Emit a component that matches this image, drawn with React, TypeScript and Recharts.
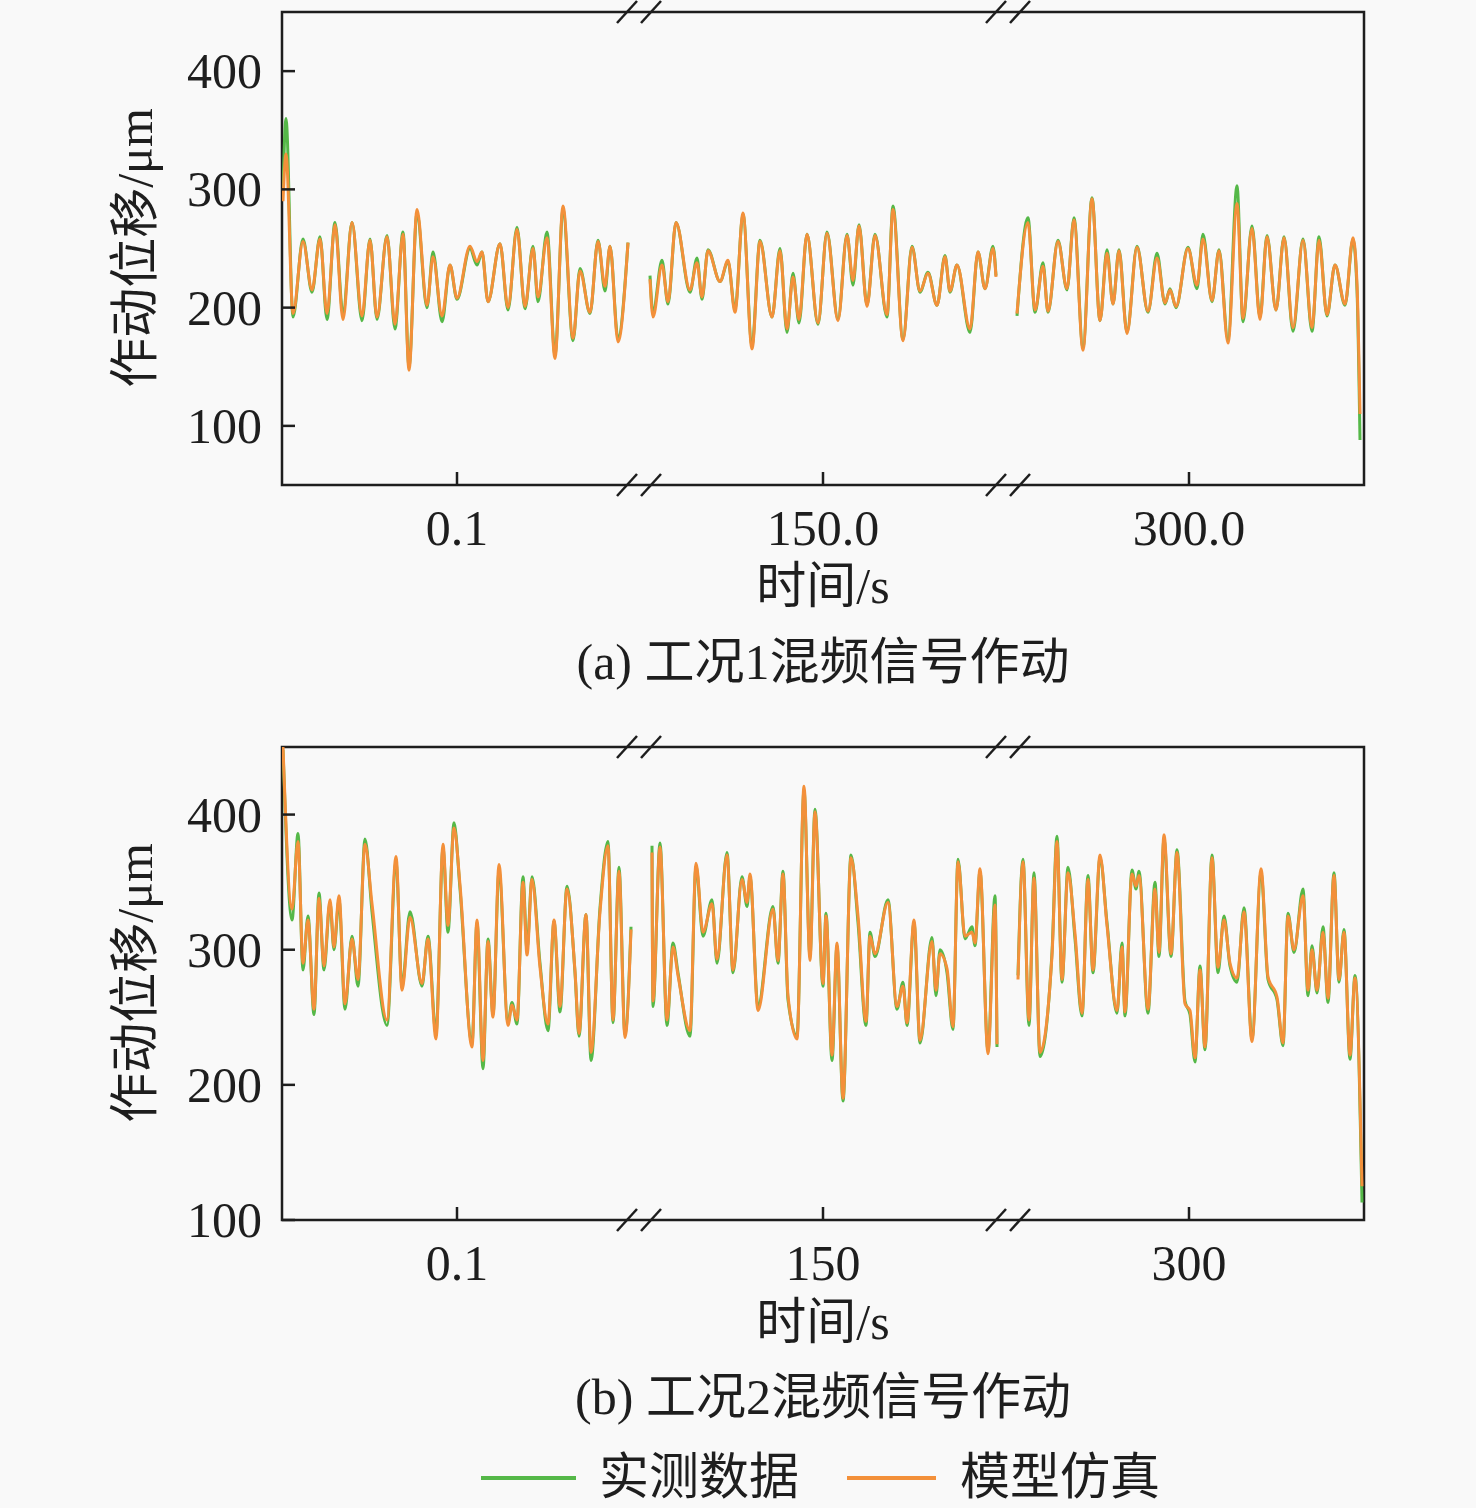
import React from 'react';
import { LineChart, Line, XAxis, YAxis, ReferenceArea, ReferenceDot } from 'recharts';

type Pt = [number, number, number]; // [position, 实测数据, 模型仿真]

// ---- (a) 工况1 ----
const A_SEG1: Pt[] = [[1,300,290],[4,360,330],[11,192,195],[21,258,256],[30,213,215],[38,260,258],[45,190,195],[53,272,270],[61,195,190],[70,272,272],[80,189,193],[88,258,257],[95,190,192],[105,261,260],[113,182,186],[121,264,262],[127,150,147],[135,280,283],[145,200,202],[151,247,243],[160,188,193],[168,236,236],[175,207,208],[188,250,252],[195,236,239],[200,247,247],[206,205,205],[218,254,254],[226,198,200],[235,268,266],[243,199,201],[251,252,250],[256,205,209],[265,264,259],[273,160,157],[281,283,286],[291,172,174],[298,233,231],[308,195,196],[316,257,256],[323,214,218],[328,252,252],[336,174,171],[346,255,255]];
const A_SEG2: Pt[] = [[368,227,224],[371,196,192],[380,240,236],[386,203,205],[394,272,272],[408,213,215],[415,242,238],[420,207,209],[426,249,248],[438,222,222],[446,239,240],[453,198,196],[461,279,280],[470,168,165],[478,257,256],[490,192,192],[498,250,248],[505,179,182],[511,229,226],[517,187,190],[525,262,262],[536,186,187],[545,264,263],[556,190,189],[565,262,261],[571,219,223],[577,270,269],[585,202,201],[593,262,261],[605,192,194],[611,286,283],[621,173,172],[630,252,251],[638,213,214],[646,230,229],[655,202,202],[663,244,243],[668,213,214],[675,236,236],[688,179,182],[696,247,247],[703,216,216],[711,252,250],[714,227,226]];
const A_SEG3: Pt[] = [[735,193,195],[746,276,272],[753,196,198],[761,238,235],[766,196,197],[776,257,256],[785,215,216],[792,276,274],[801,166,164],[810,293,292],[818,189,189],[825,249,246],[831,203,203],[837,249,248],[845,179,178],[855,252,251],[866,196,197],[875,246,242],[883,203,204],[888,216,215],[894,200,201],[906,251,250],[915,216,219],[921,262,258],[930,205,206],[937,249,248],[946,173,170],[955,303,288],[961,188,191],[970,269,267],[978,192,190],[985,261,260],[994,198,198],[1002,260,259],[1011,180,183],[1021,258,257],[1030,180,183],[1037,260,257],[1045,193,194],[1053,236,236],[1063,202,203],[1071,258,259],[1075,215,220],[1078,88,110]];

// ---- (b) 工况2 ----
const B_SEG1: Pt[] = [[1,448,450],[10,322,330],[16,386,380],[21,285,290],[26,325,322],[32,252,256],[37,342,338],[42,285,288],[48,335,337],[52,300,302],[57,337,340],[63,256,260],[70,310,308],[76,273,278],[83,382,378],[90,328,334],[105,244,248],[114,365,369],[120,273,270],[128,328,324],[140,273,275],[146,310,308],[154,238,234],[161,375,378],[166,313,318],[172,394,390],[178,345,348],[190,231,228],[195,320,322],[201,212,218],[206,308,306],[211,252,250],[217,358,363],[226,246,244],[230,261,259],[235,245,248],[241,354,350],[245,300,296],[250,354,352],[258,290,287],[266,240,245],[272,321,322],[278,254,258],[285,347,345],[293,283,284],[297,236,238],[304,326,326],[309,218,224],[318,331,328],[326,380,377],[331,246,248],[337,361,358],[343,237,235],[349,317,315]];
const B_SEG2: Pt[] = [[370,377,372],[371,258,262],[378,379,376],[385,244,248],[391,305,302],[396,283,281],[408,236,240],[414,362,364],[421,310,313],[430,337,334],[435,290,293],[445,372,370],[451,283,285],[460,354,352],[465,332,335],[468,354,356],[476,258,255],[491,332,330],[496,290,292],[501,358,356],[506,263,266],[515,236,234],[522,418,421],[528,295,292],[533,404,402],[541,273,275],[544,327,325],[550,218,222],[555,303,305],[561,188,190],[569,370,368],[576,320,325],[584,244,247],[588,313,310],[593,295,297],[606,337,335],[615,256,258],[621,276,273],[625,244,246],[632,320,322],[638,231,233],[650,309,306],[654,266,270],[658,300,297],[665,283,286],[671,241,243],[676,367,365],[683,308,310],[690,317,313],[693,303,305],[698,358,360],[706,225,223],[713,340,333],[715,228,230]];
const B_SEG3: Pt[] = [[736,281,278],[741,367,365],[747,244,248],[752,357,353],[758,221,224],[770,298,296],[775,384,380],[780,276,278],[786,361,357],[793,308,312],[800,251,253],[806,355,352],[811,283,285],[818,368,370],[825,320,318],[835,253,255],[840,305,302],[843,251,254],[850,359,356],[854,345,347],[857,358,355],[866,253,256],[873,350,345],[877,295,298],[882,382,385],[889,295,297],[895,374,372],[903,262,260],[908,252,255],[913,217,220],[918,288,285],[923,226,228],[930,370,368],[936,283,287],[942,325,322],[948,288,290],[955,276,279],[962,331,328],[970,234,232],[979,357,360],[986,278,280],[995,263,265],[1001,229,231],[1006,327,325],[1012,298,300],[1021,345,340],[1026,266,270],[1030,303,300],[1035,268,270],[1041,317,313],[1046,261,264],[1052,357,355],[1057,276,278],[1062,315,313],[1068,219,222],[1073,281,279],[1080,113,125]];

const X_DOMAIN: [number, number] = [0, 1082];
const X_TICKS = [175, 541, 907];
const X_LABELS_A = ['0.1', '150.0', '300.0'];
const X_LABELS_B = ['0.1', '150', '300'];
const Y_TICKS = [100, 200, 300, 400];
const Y_DOMAIN_A: [number, number] = [50, 450];
const Y_DOMAIN_B: [number, number] = [100, 450];
const BREAKS = [357, 726];
const SERIES_NAMES = ['实测数据', '模型仿真'];

const GREEN = '#55b848';
const ORANGE = '#f3903a';
const INK = '#1e1e1e';
const FONT = "'Times New Roman', 'Liberation Serif', 'Noto Sans CJK SC', serif";
const TS = 6;
const TM = 2;

function build(segs: Pt[][]) {
  const rows: { x: number; m: number | null; s: number | null }[] = [];
  segs.forEach((seg, i) => {
    if (i > 0) {
      const prev = segs[i - 1];
      rows.push({ x: (prev[prev.length - 1][0] + seg[0][0]) / 2, m: null, s: null });
    }
    seg.forEach(([x, m, s]) => rows.push({ x, m, s }));
  });
  return rows;
}

const DATA_A = build([A_SEG1, A_SEG2, A_SEG3]);
const DATA_B = build([B_SEG1, B_SEG2, B_SEG3]);

const YTick = (props: any) => {
  const { x, y, payload } = props;
  const ax = x + TS + TM;
  return (
    <g>
      <line x1={ax} x2={ax + 13} y1={y} y2={y} stroke={INK} strokeWidth={2.5} />
      <text x={ax - 20} y={y} textAnchor="end" dominantBaseline="central" fontSize={50} fontFamily={FONT} fill={INK}>
        {payload.value}
      </text>
    </g>
  );
};

const XTick = (props: any) => {
  const { x, y, payload, labels } = props;
  const ay = y - TS - TM;
  const idx = X_TICKS.indexOf(payload.value);
  return (
    <g>
      <line x1={x} x2={x} y1={ay} y2={ay - 13} stroke={INK} strokeWidth={2.5} />
      <text x={x} y={ay + 60} textAnchor="middle" fontSize={50} fontFamily={FONT} fill={INK}>
        {labels[idx]}
      </text>
    </g>
  );
};

const BreakMark = (p: any) => {
  const { cx, cy } = p;
  return (
    <g stroke={INK} strokeWidth={2.5}>
      <line x1={cx - 22} y1={cy + 11} x2={cx - 2} y2={cy - 11} />
      <line x1={cx + 2} y1={cy + 11} x2={cx + 22} y2={cy - 11} />
    </g>
  );
};

function Panel({ data, yDomain, labels, top }: any) {
  return (
    <div style={{ position: 'absolute', left: 0, top }}>
      <LineChart width={1476} height={560} data={data} margin={{ top: 12, right: 112, bottom: 0, left: 0 }}>
        <XAxis
          dataKey="x"
          type="number"
          domain={X_DOMAIN}
          ticks={X_TICKS}
          interval={0}
          tick={<XTick labels={labels} />}
          tickSize={TS}
          tickMargin={TM}
          tickLine={false}
          axisLine={false}
          height={75}
          allowDataOverflow
        />
        <YAxis
          type="number"
          domain={yDomain}
          ticks={Y_TICKS}
          interval={0}
          width={282}
          tick={<YTick />}
          tickSize={TS}
          tickMargin={TM}
          tickLine={false}
          axisLine={false}
          allowDataOverflow
        />
        <ReferenceArea
          x1={X_DOMAIN[0]}
          x2={X_DOMAIN[1]}
          y1={yDomain[0]}
          y2={yDomain[1]}
          fill="none"
          fillOpacity={0}
          stroke={INK}
          strokeWidth={2.5}
          ifOverflow="visible"
        />
        <Line dataKey="m" name={SERIES_NAMES[0]} type="monotone" stroke={GREEN} strokeWidth={3} dot={false} isAnimationActive={false} />
        <Line dataKey="s" name={SERIES_NAMES[1]} type="monotone" stroke={ORANGE} strokeWidth={3} dot={false} isAnimationActive={false} />
        {BREAKS.flatMap((b) =>
          [yDomain[0], yDomain[1]].map((yv: number) => (
            <ReferenceDot key={`${b}-${yv}`} x={b} y={yv} r={1} ifOverflow="visible" shape={BreakMark} />
          ))
        )}
      </LineChart>
    </div>
  );
}

const textStyle: React.CSSProperties = {
  position: 'absolute',
  fontFamily: FONT,
  fontSize: 50,
  lineHeight: '50px',
  color: INK,
  whiteSpace: 'nowrap',
};

function Centered({ x, y, children }: any) {
  return <div style={{ ...textStyle, left: x, top: y - 25, transform: 'translateX(-50%)' }}>{children}</div>;
}

function YLabel({ y }: any) {
  return (
    <div style={{ ...textStyle, left: 135, top: y, transform: 'translate(-50%, -50%) rotate(-90deg)' }}>作动位移/μm</div>
  );
}

export default function App() {
  return (
    <div style={{ position: 'absolute', left: 0, top: 0, width: 1476, height: 1508, background: '#f9f9f9', overflow: 'hidden' }}>
      <Panel data={DATA_A} yDomain={Y_DOMAIN_A} labels={X_LABELS_A} top={0} />
      <Panel data={DATA_B} yDomain={Y_DOMAIN_B} labels={X_LABELS_B} top={735} />
      <YLabel y={248} />
      <YLabel y={983} />
      <Centered x={823} y={586}>时间/s</Centered>
      <Centered x={823} y={662}>(a) 工况1混频信号作动</Centered>
      <Centered x={823} y={1322}>时间/s</Centered>
      <Centered x={823} y={1397}>(b) 工况2混频信号作动</Centered>
      <div style={{ position: 'absolute', left: 481, top: 1476, width: 95, height: 4, background: GREEN }} />
      <div style={{ ...textStyle, left: 599, top: 1452 }}>{SERIES_NAMES[0]}</div>
      <div style={{ position: 'absolute', left: 847, top: 1476, width: 89, height: 4, background: ORANGE }} />
      <div style={{ ...textStyle, left: 960, top: 1452 }}>{SERIES_NAMES[1]}</div>
    </div>
  );
}
